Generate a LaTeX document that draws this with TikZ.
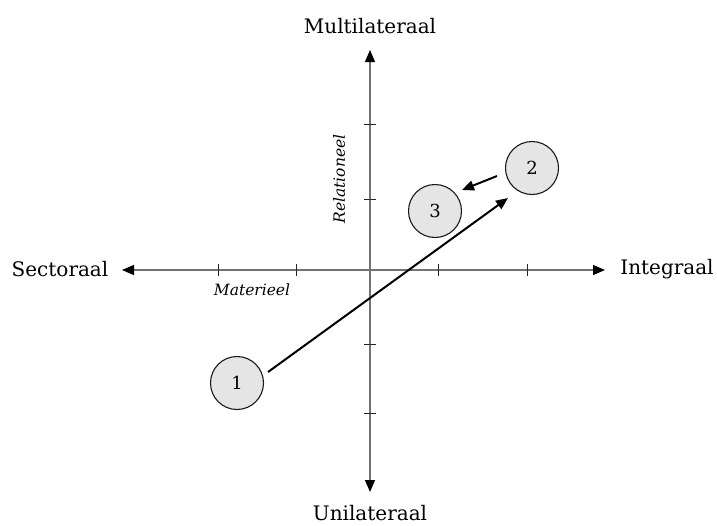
\documentclass[tikz,border=0pt]{standalone}
\usepackage{fontspec}
\setmainfont{DejaVu Serif}
\usetikzlibrary{arrows.meta,calc}
\begin{document}
\begin{tikzpicture}[x=1pt,y=-1pt,
  axis/.style={draw=black!55,line width=1.2pt,-{Triangle[length=12pt,width=10pt,color=black]}},
  majtick/.style={draw=black!85,line width=0.8pt},
  bubble/.style={circle,draw=black!90,line width=1.1pt,fill=black!10,minimum size=53pt,inner sep=0pt,font=\fontsize{18}{20}\selectfont},
  axlabel/.style={font=\fontsize{20}{24}\selectfont},
  itlabel/.style={font=\itshape\fontsize{15.5}{18}\selectfont},
  move/.style={draw=black,line width=2pt,-{Triangle[length=12pt,width=10pt]}}]
\useasboundingbox (0,0) rectangle (717,525);
\coordinate (O) at (370,270);
\coordinate (L) at (122,270);
\coordinate (R) at (605,270);
\coordinate (T) at (370,50);
\coordinate (B) at (370,492);
\draw[axis] (O) -- (L);
\draw[axis] (O) -- (R);
\draw[axis] (O) -- (T);
\draw[axis] (O) -- (B);
% major ticks
\foreach \x in {218,296,438,527} \draw[majtick] (\x,264) -- (\x,276);
\foreach \y in {124,199,344,413} \draw[majtick] (364,\y) -- (376,\y);
% labels
\node[axlabel] (multi) at (370,26) {Multilateraal};
\node[axlabel] (uni) at (370,513) {Unilateraal};
\node[axlabel] (sect) at (60,269) {Sectoraal};
\node[axlabel] (integ) at (667,269) {Integraal};
\node[itlabel] (mat) at (252,290) {Materieel};
\node[itlabel,rotate=90] (rel) at (339,179) {Relationeel};
% bubbles
\node[bubble] (n1) at (237,383) {1};
\node[bubble] (n2) at (532,168) {2};
\node[bubble] (n3) at (435,211) {3};
\draw[move] ($(n1.center)+(31,-11)$) -- ($(n2.center)+(-24,30)$);
\draw[move] ($(n2.center)+(-35,8)$) -- ($(n3.center)+(27,-21)$);
\end{tikzpicture}
\end{document}
